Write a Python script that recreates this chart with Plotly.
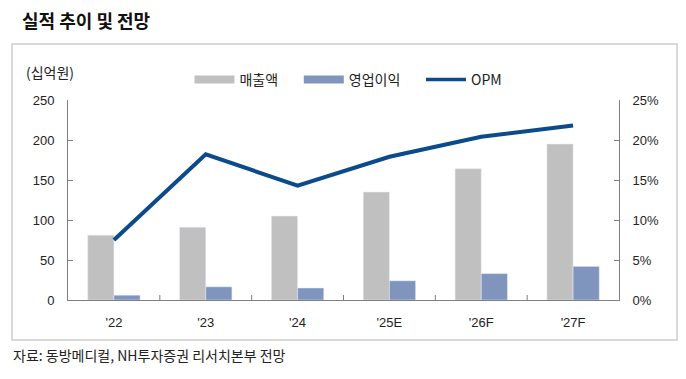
import plotly.graph_objects as go

categories = ["'22", "'23", "'24", "'25E", "'26F", "'27F"]
sales = [81, 91, 105, 135, 164, 195]
op_profit = [6, 16.5, 15, 24, 33, 42]
opm = [7.5, 18.2, 14.3, 17.9, 20.4, 21.8]
left_ticks = [0, 50, 100, 150, 200, 250]
right_ticks = [0, 5, 10, 15, 20, 25]

GRAY = "#C0C0C0"
BLUE = "#7F95BE"
NAVY = "#0B4A8B"
KFONT = "Noto Sans CJK KR"
NFONT = "Liberation Sans"

fig = go.Figure()
fig.add_trace(go.Bar(x=categories, y=sales, marker_color=GRAY, showlegend=False, name="매출액"))
fig.add_trace(go.Bar(x=categories, y=op_profit, marker_color=BLUE, showlegend=False, name="영업이익"))
fig.add_trace(go.Scatter(x=categories, y=opm, yaxis="y2", mode="lines",
                         line=dict(color=NAVY, width=4), showlegend=False, name="OPM"))
# legend entries
pad = "&nbsp;" * 5
legend_items = [("매출액" + pad, GRAY, 8), ("영업이익" + pad, BLUE, 8), ("OPM", NAVY, 3.5)]
for nm, col, w in legend_items:
    fig.add_trace(go.Scatter(x=[None], y=[None], mode="lines", name=nm,
                             line=dict(color=col, width=w)))

axis_col = "#7F7F7F"
fig.update_layout(
    width=678, height=371,
    margin=dict(l=60, r=67, t=92, b=79, autoexpand=False),
    paper_bgcolor="white", plot_bgcolor="white",
    barmode="group", bargap=0.43, bargroupgap=0,
    font=dict(family=NFONT, size=13, color="#222"),
    xaxis=dict(showgrid=False, showline=True, linecolor=axis_col, linewidth=1,
               ticks="", ticklabelstandoff=10, tickfont=dict(family=NFONT, size=13)),
    yaxis=dict(range=[0, 250], tickvals=left_ticks, showgrid=False, zeroline=False,
               showline=True, linecolor=axis_col, ticks="inside", ticklen=5, tickcolor=axis_col,
               ticklabelstandoff=10, tickfont=dict(family=NFONT, size=13)),
    yaxis2=dict(range=[0, 25], tickvals=right_ticks, ticktext=[f"{v}%" for v in right_ticks],
                overlaying="y", side="right", showgrid=False, zeroline=False,
                showline=True, linecolor=axis_col, ticks="inside", ticklen=5, tickcolor=axis_col,
                ticklabelstandoff=10, tickfont=dict(family=NFONT, size=13)),
    legend=dict(orientation="h", x=0.509, xanchor="center", y=1.1, yanchor="middle",
                font=dict(family=KFONT, size=14), itemwidth=40, tracegroupgap=0),
    showlegend=True,
)

# category boundary ticks on x axis
for i in range(1, len(categories)):
    fig.add_shape(type="line", xref="x", yref="paper", x0=i - 0.5, x1=i - 0.5, y0=0, y1=0.025,
                  line=dict(color=axis_col, width=1))

# border box
fig.add_shape(type="rect", xref="paper", yref="paper",
              x0=-56 / 551, x1=(677 - 68) / 551, y0=-(340 - 300) / 200, y1=(300 - 44) / 200,
              line=dict(color="#D9D9D9", width=2), layer="below")

fig.add_annotation(text="<b>실적 추이 및 전망</b>", xref="paper", yref="paper",
                   x=-48 / 551, y=(300 - 20) / 200, xanchor="left", yanchor="middle",
                   showarrow=False, font=dict(family=KFONT, size=18, color="#111"))
fig.add_annotation(text="(십억원)", xref="paper", yref="paper",
                   x=-44 / 551, y=(300 - 72) / 200, xanchor="left", yanchor="middle",
                   showarrow=False, font=dict(family=KFONT, size=14, color="#222"))
fig.add_annotation(text="자료: 동방메디컬, NH투자증권 리서치본부 전망", xref="paper", yref="paper",
                   x=-57 / 551, y=-(355 - 300) / 200, xanchor="left", yanchor="middle",
                   showarrow=False, font=dict(family=KFONT, size=14, color="#222"))

fig.write_html("out.html")
